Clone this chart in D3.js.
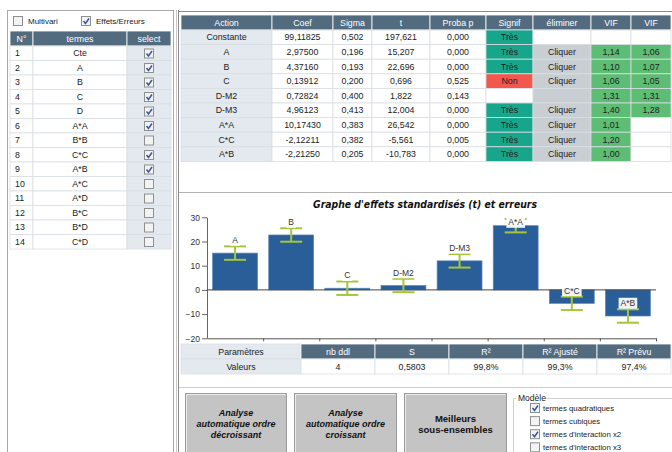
<!DOCTYPE html>
<html>
<head>
<meta charset="utf-8">
<script src="https://cdn.jsdelivr.net/npm/d3@7"></script>
<style>
  body { margin: 0; background: #fff; }
  svg text { font-family: "Liberation Sans", Arial, sans-serif; }
</style>
</head>
<body>
<script>
// ---- left list of terms ----
const termIds = ['1', '2', '3', '4', '5', '6', '7', '8', '9', '10', '11', '12', '13', '14'];
const termNames = ['Cte', 'A', 'B', 'C', 'D', 'A*A', 'B*B', 'C*C', 'A*B', 'A*C', 'A*D', 'B*C', 'B*D', 'C*D'];
const termSelected = [1, 1, 1, 1, 1, 1, 0, 1, 1, 0, 0, 0, 0, 0];

// ---- coefficients table ----
const coefHeaders = ['Action', 'Coef', 'Sigma', 't', 'Proba p', 'Signif', 'éliminer', 'VIF', 'VIF'];
const actions = ['Constante', 'A', 'B', 'C', 'D-M2', 'D-M3', 'A*A', 'C*C', 'A*B'];
const coefs = ['99,11825', '2,97500', '4,37160', '0,13912', '0,72824', '4,96123', '10,17430', '-2,12211', '-2,21250'];
const sigmas = ['0,502', '0,196', '0,193', '0,200', '0,400', '0,413', '0,383', '0,382', '0,205'];
const tStats = ['197,621', '15,207', '22,696', '0,696', '1,822', '12,004', '26,542', '-5,561', '-10,783'];
const probas = ['0,000', '0,000', '0,000', '0,525', '0,143', '0,000', '0,000', '0,005', '0,000'];
const signif = ['Très', 'Très', 'Très', 'Non', '', 'Très', 'Très', 'Très', 'Très'];
const eliminer = [null, 'Cliquer', 'Cliquer', 'Cliquer', '', 'Cliquer', 'Cliquer', 'Cliquer', 'Cliquer'];
const vif1 = ['', '1,14', '1,10', '1,06', '1,31', '1,40', '1,01', '1,20', '1,00'];
const vif2 = ['', '1,06', '1,07', '1,05', '1,31', '1,28', '', '', ''];

// ---- effects chart ----
const effectNames = ['A', 'B', 'C', 'D-M2', 'D-M3', 'A*A', 'C*C', 'A*B'];
const effectT = [15.207, 22.696, 0.696, 1.822, 12.004, 26.542, -5.561, -10.783];
const effectErr = [2.78, 2.78, 2.78, 2.78, 2.78, 2.78, 2.78, 2.78];
const yTicks = [-20, -10, 0, 10, 20, 30];

// ---- parameters ----
const paramHeaders = ['Paramètres', 'nb ddl', 'S', 'R²', 'R² Ajusté', 'R² Prévu'];
const paramValues = ['Valeurs', '4', '0,5803', '99,8%', '99,3%', '97,4%'];

// ---- buttons / options ----
const buttonLabels = [['Analyse', 'automatique ordre', 'décroissant'], ['Analyse', 'automatique  ordre', 'croissant'], ['Meilleurs', 'sous-ensembles']];
const modelOptions = ['termes quadratiques', 'termes cubiques', "termes d'interaction x2", "termes d'interaction x3"];
const modelChecked = [1, 0, 1, 0];

const HEAD = '#536b7f', LIGHT = '#e3e9ef', LINE = '#d9dee3';

const svg = d3.select('body').append('svg')
    .attr('width', 672)
    .attr('height', 452);

// draws a small windows-like checkbox
function checkbox(g, x, y, checked) {
    g.append('rect')
        .attr('x', x + 0.5).attr('y', y + 0.5)
        .attr('width', 9).attr('height', 9)
        .attr('fill', '#f3f3f3').attr('stroke', '#8e8f8f');
    if (checked) {
        g.append('path')
            .attr('d', `M${x + 2.5},${y + 5} L${x + 4.5},${y + 7.5} L${x + 8},${y + 2.5}`)
            .attr('fill', 'none').attr('stroke', '#3a55a0').attr('stroke-width', 1.5);
    }
}

function cell(g, x0, x1, y0, y1, fill, txt, color, weight) {
    g.append('rect')
        .attr('x', x0).attr('y', y0)
        .attr('width', x1 - x0).attr('height', y1 - y0)
        .attr('fill', fill).attr('stroke', fill == HEAD ? '#fff' : LINE)
        .attr('stroke-width', 0.8);
    if (txt) {
        g.append('text')
            .attr('x', (x0 + x1) / 2).attr('y', (y0 + y1) / 2 + 3)
            .attr('text-anchor', 'middle')
            .style('font-size', '8.8px')
            .style('font-weight', weight || 'normal')
            .attr('fill', color || '#222')
            .text(txt);
    }
}

// PANEL FRAMES //
svg.append('rect').attr('x', 7.5).attr('y', 10.5).attr('width', 166).attr('height', 460)
    .attr('fill', 'none').attr('stroke', '#a8a8a8');
svg.append('line').attr('x1', 176.5).attr('x2', 176.5).attr('y1', 10).attr('y2', 452).attr('stroke', '#c8c8c8');
svg.append('line').attr('x1', 178.5).attr('x2', 178.5).attr('y1', 10).attr('y2', 452).attr('stroke', '#8a8a8a');
svg.append('line').attr('x1', 178).attr('x2', 672).attr('y1', 11.5).attr('y2', 11.5).attr('stroke', '#8a8a8a');
svg.append('line').attr('x1', 179).attr('x2', 672).attr('y1', 192.5).attr('y2', 192.5).attr('stroke', '#b4b4b4');
svg.append('line').attr('x1', 179).attr('x2', 672).attr('y1', 387.5).attr('y2', 387.5).attr('stroke', '#cfcfcf');

// LEFT PANEL //
const left = svg.append('g');
checkbox(left, 13, 16, false);
left.append('text').attr('x', 28).attr('y', 24).style('font-size', '8px').attr('fill', '#222').text('Multivari');
checkbox(left, 81, 16, true);
left.append('text').attr('x', 96).attr('y', 24).style('font-size', '8px').attr('fill', '#222').text('Effets/Erreurs');

const lCols = [10, 33, 127, 171];
const lHead = ['N°', 'termes', 'select'];
const lTop = 31, lHeadH = 15, lRowH = 14.5;
lHead.forEach((h, i) => {
    cell(left, lCols[i], lCols[i + 1], lTop, lTop + lHeadH, HEAD, h, '#fff');
});
termNames.forEach((t, r) => {
    const y0 = lTop + lHeadH + r * lRowH, y1 = y0 + lRowH;
    cell(left, lCols[0], lCols[1], y0, y1, '#fff', termIds[r]);
    cell(left, lCols[1], lCols[2], y0, y1, '#fff', t);
    cell(left, lCols[2], lCols[3], y0, y1, LIGHT, '');
    checkbox(left, 144, y0 + 2.5, termSelected[r]);
});
// N° column left-aligned look
left.selectAll('text').filter(function () { return termIds.includes(this.textContent) && +this.getAttribute('x') < 30; })
    .attr('x', 15).attr('text-anchor', 'start');

// COEFFICIENT TABLE //
const tbl = svg.append('g');
const cCols = [181, 272, 333, 372, 430, 486, 533, 591, 631, 671];
const cTop = 15, cHeadH = 15, cRowH = 14.6;
coefHeaders.forEach((h, i) => cell(tbl, cCols[i], cCols[i + 1], cTop, cTop + cHeadH, HEAD, h, '#fff'));
actions.forEach((a, r) => {
    const y0 = cTop + cHeadH + r * cRowH, y1 = y0 + cRowH;
    cell(tbl, cCols[0], cCols[1], y0, y1, LIGHT, a);
    cell(tbl, cCols[1], cCols[2], y0, y1, '#fff', coefs[r]);
    cell(tbl, cCols[2], cCols[3], y0, y1, '#fff', sigmas[r]);
    cell(tbl, cCols[3], cCols[4], y0, y1, '#fff', tStats[r]);
    cell(tbl, cCols[4], cCols[5], y0, y1, '#fff', probas[r]);
    const sFill = signif[r] == 'Très' ? '#17a68c' : signif[r] == 'Non' ? '#f2584e' : '#fff';
    cell(tbl, cCols[5], cCols[6], y0, y1, sFill, signif[r]);
    cell(tbl, cCols[6], cCols[7], y0, y1, eliminer[r] === null ? '#fff' : '#c9ced3', eliminer[r]);
    cell(tbl, cCols[7], cCols[8], y0, y1, vif1[r] ? '#5dbd74' : '#fff', vif1[r]);
    cell(tbl, cCols[8], cCols[9], y0, y1, vif2[r] ? '#5dbd74' : '#fff', vif2[r]);
});

// EFFECTS CHART //
const chart = svg.append('g');
const y = d3.scaleLinear().domain([-20, 30]).range([338.3, 217.3]);
const x = d3.scaleBand().domain(effectNames).range([207, 656]).paddingInner(0.2).paddingOuter(0.1);

chart.append('text')
    .attr('x', 425).attr('y', 208)
    .attr('text-anchor', 'middle')
    .style('font-family', '"DejaVu Sans", Verdana, sans-serif')
    .style('font-size', '10px').style('font-weight', 'bold').style('font-style', 'italic')
    .attr('textLength', 224).attr('lengthAdjust', 'spacingAndGlyphs')
    .attr('fill', '#111')
    .text("Graphe d'effets standardisés (t) et erreurs");

const yAxis = chart.append('g')
    .attr('transform', 'translate(207,0)')
    .call(d3.axisLeft(y).tickValues(yTicks).tickSize(5).tickSizeOuter(0).tickPadding(2));
yAxis.select('.domain').attr('stroke', '#666');
yAxis.selectAll('.tick line').attr('stroke', '#666');
yAxis.selectAll('text').style('font-size', '8.5px').attr('fill', '#333')
    .style('font-family', '"Liberation Sans", Arial, sans-serif');

const xEdge = d3.scaleLinear().domain([0, effectNames.length]).range([207, 656]);
const xAxis = chart.append('g')
    .attr('transform', `translate(0,${y(-20)})`)
    .call(d3.axisBottom(xEdge).tickValues(d3.range(1, effectNames.length + 1)).tickSize(3).tickSizeOuter(0).tickFormat(''));
xAxis.select('.domain').attr('stroke', '#555');
xAxis.selectAll('.tick line').attr('stroke', '#555');

chart.selectAll('rect.bar')
    .data(effectT)
    .join('rect')
    .attr('class', 'bar')
    .attr('x', (d, i) => x(effectNames[i]))
    .attr('width', x.bandwidth())
    .attr('y', d => y(Math.max(0, d)))
    .attr('height', d => Math.abs(y(d) - y(0)))
    .attr('fill', '#2a5e98')
    .attr('stroke', '#5a88bb')
    .attr('stroke-width', 0.7);

chart.append('line')
    .attr('x1', 207).attr('x2', 656)
    .attr('y1', y(0)).attr('y2', y(0))
    .attr('stroke', '#444').attr('stroke-width', 1);

// error bars
const err = chart.selectAll('g.err')
    .data(effectT)
    .join('g')
    .attr('class', 'err')
    .attr('stroke', '#a5c63b')
    .attr('stroke-width', 2);
err.append('line')
    .attr('x1', (d, i) => x(effectNames[i]) + x.bandwidth() / 2)
    .attr('x2', (d, i) => x(effectNames[i]) + x.bandwidth() / 2)
    .attr('y1', (d, i) => y(d + effectErr[i]))
    .attr('y2', (d, i) => y(d - effectErr[i]));
[1, -1].forEach(s => {
    err.append('line')
        .attr('x1', (d, i) => x(effectNames[i]) + x.bandwidth() / 2 - 11)
        .attr('x2', (d, i) => x(effectNames[i]) + x.bandwidth() / 2 + 11)
        .attr('y1', (d, i) => y(d + s * effectErr[i]))
        .attr('y2', (d, i) => y(d + s * effectErr[i]));
});

// labels over the top cap, kept inside the plot
const lab = chart.selectAll('g.lab')
    .data(effectT)
    .join('g')
    .attr('class', 'lab')
    .attr('transform', (d, i) => {
        const cy = Math.max(y(d + effectErr[i]) - 6, y(30) + 5);
        return `translate(${x(effectNames[i]) + x.bandwidth() / 2},${cy})`;
    });
lab.append('rect').attr('fill', '#fff').attr('opacity', 0.92);
lab.append('text')
    .attr('text-anchor', 'middle')
    .attr('y', 3)
    .style('font-size', '8.5px')
    .attr('fill', '#333')
    .text((d, i) => effectNames[i]);
lab.each(function () {
    const w = d3.select(this).select('text').node().getComputedTextLength();
    d3.select(this).select('rect')
        .attr('x', -w / 2 - 2).attr('y', -5.5)
        .attr('width', w + 4).attr('height', 11);
});

// PARAMETERS TABLE //
const par = svg.append('g');
const pCols = [181, 301, 375, 449, 523, 597, 671];
paramHeaders.forEach((h, i) => {
    cell(par, pCols[i], pCols[i + 1], 344, 359, i == 0 ? LIGHT : HEAD, h, i == 0 ? '#222' : '#fff');
    cell(par, pCols[i], pCols[i + 1], 359, 374, i == 0 ? LIGHT : '#fff', paramValues[i]);
});

// BUTTONS //
const btnX = [[185, 286], [294, 396], [404, 506]];
buttonLabels.forEach((lines, b) => {
    const g = svg.append('g');
    const [x0, x1] = btnX[b];
    g.append('rect').attr('x', x0 + 0.5).attr('y', 393.5).attr('width', x1 - x0).attr('height', 70)
        .attr('fill', '#c4c4c4').attr('stroke', '#9a9a9a');
    g.append('path').attr('d', `M${x0 + 1.5},462 V394.5 H${x1 - 0.5}`)
        .attr('fill', 'none').attr('stroke', '#ececec');
    const top = lines.length == 3 ? 416 : 422;
    lines.forEach((t, k) => {
        g.append('text')
            .attr('x', (x0 + x1) / 2 + 0.5).attr('y', top + k * 11)
            .attr('text-anchor', 'middle')
            .style('font-size', b == 2 ? '9.5px' : '9px')
            .style('font-weight', 'bold')
            .style('font-style', b == 2 ? 'normal' : 'italic')
            .attr('fill', '#111')
            .text(t);
    });
});

// MODEL OPTIONS //
const mod = svg.append('g');
mod.append('path').attr('d', 'M513.5,452 V398.5 H516 M545,398.5 H672')
    .attr('fill', 'none').attr('stroke', '#d0d0d0');
mod.append('text').attr('x', 518).attr('y', 401).style('font-size', '8.5px').attr('fill', '#222').text('Modèle');
modelOptions.forEach((t, i) => {
    const cy = 408 + i * 13.1;
    checkbox(mod, 530, cy - 5, modelChecked[i]);
    mod.append('text').attr('x', 543).attr('y', cy + 2.5).style('font-size', '7.8px').attr('fill', '#222').text(t);
});
</script>
</body>
</html>
